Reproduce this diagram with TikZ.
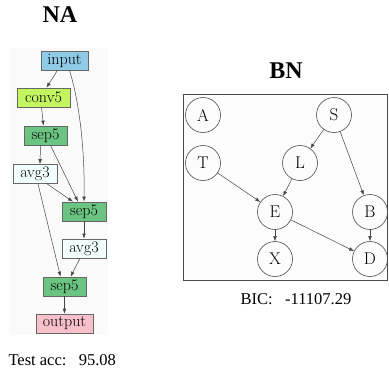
\documentclass[tikz,border=0pt]{standalone}
\usepackage{fontspec}
\newfontfamily\timesf{Liberation Serif}
\usetikzlibrary{arrows.meta}
\definecolor{inblue}{HTML}{8FCBE6}
\definecolor{convgreen}{HTML}{C3F560}
\definecolor{sepgreen}{HTML}{6CC483}
\definecolor{avgazure}{HTML}{F2FFFF}
\definecolor{outpink}{HTML}{F8C0CA}
\definecolor{edgegray}{HTML}{444444}
\begin{document}
\begin{tikzpicture}[x=1pt,y=-1pt,
  op/.style={draw=black!60, line width=0.7pt, minimum height=19pt, inner sep=0pt,
    text=black, font=\fontsize{16}{16}\selectfont},
  arr/.style={-{Latex[length=5pt,width=3.6pt]}, draw=edgegray, line width=0.5pt},
  var/.style={circle, draw=black!70, line width=0.6pt, minimum size=35pt, inner sep=0pt,
    text=black, font=\fontsize{17}{17}\selectfont},
  ttl/.style={font=\timesf\bfseries\fontsize{24}{24}\selectfont},
  captxt/.style={font=\timesf\fontsize{16.5}{16.5}\selectfont, text=black}]
\useasboundingbox (0,0) rectangle (389,375);
% NA panel
\node[ttl, anchor=base] (natitle) at (60,22) {NA};
\fill[black!2] (10,48) rectangle (108,335);
\node[op, fill=inblue, minimum width=47pt] (input) at (64.5,60.5) {input};
\node[op, fill=convgreen, minimum width=53pt] (conv) at (43.5,97.5) {conv5};
\node[op, fill=sepgreen, minimum width=43pt] (sepa) at (45.5,135.5) {sep5};
\node[op, fill=avgazure, minimum width=44pt] (avga) at (35,174) {avg3};
\node[op, fill=sepgreen, minimum width=44pt] (sepb) at (84,211.5) {sep5};
\node[op, fill=avgazure, minimum width=44pt] (avgb) at (84,248.5) {avg3};
\node[op, fill=sepgreen, minimum width=43pt] (sepc) at (64.5,286.5) {sep5};
\node[op, fill=outpink, minimum width=57pt] (output) at (64.5,323.5) {output};
\draw[arr] ([xshift=-7pt]input.south) -- ([xshift=3pt]conv.north);
\draw[arr] ([xshift=5pt]input.south) .. controls +(8,25) and +(1,-60) .. ([xshift=0pt]sepb.north);
\draw[arr] ([xshift=-2pt]conv.south) -- ([xshift=-2pt]sepa.north);
\draw[arr] ([xshift=-5pt]sepa.south) -- ([xshift=5pt]avga.north);
\draw[arr] ([xshift=5pt]sepa.south) -- ([xshift=-6pt]sepb.north);
\draw[arr] ([xshift=12pt]avga.south) -- ([xshift=-11pt]sepb.north);
\draw[arr] ([xshift=3pt]avga.south) -- ([xshift=-4pt]sepc.north);
\draw[arr] (sepb.south) -- (avgb.north);
\draw[arr] ([xshift=-4pt]avgb.south) -- ([xshift=6pt]sepc.north);
\draw[arr] (sepc.south) -- (output.north);
\node[captxt, anchor=base west] (acc) at (5,365) {Test acc:\hspace{0.75em}95.08};
% BN panel
\node[ttl, anchor=base] (bntitle) at (286,78) {BN};
\draw[black!70, line width=0.8pt, fill=black!1] (183,94) rectangle (387,280);
\node[var] (A) at (203,115) {A};
\node[var] (S) at (334,115) {S};
\node[var] (T) at (203,163) {T};
\node[var] (L) at (300,163) {L};
\node[var] (E) at (275,212) {E};
\node[var] (B) at (370,212) {B};
\node[var] (X) at (275,259) {X};
\node[var] (D) at (370,259) {D};
\draw[arr] (S) -- (L);
\draw[arr] (S) -- (B);
\draw[arr] (T) -- (E);
\draw[arr] (L) -- (E);
\draw[arr] (E) -- (X);
\draw[arr] (E) -- (D);
\draw[arr] (B) -- (D);
\node[captxt, anchor=base] (bic) at (296,304) {BIC:\hspace{0.75em}-11107.29};
\end{tikzpicture}
\end{document}
